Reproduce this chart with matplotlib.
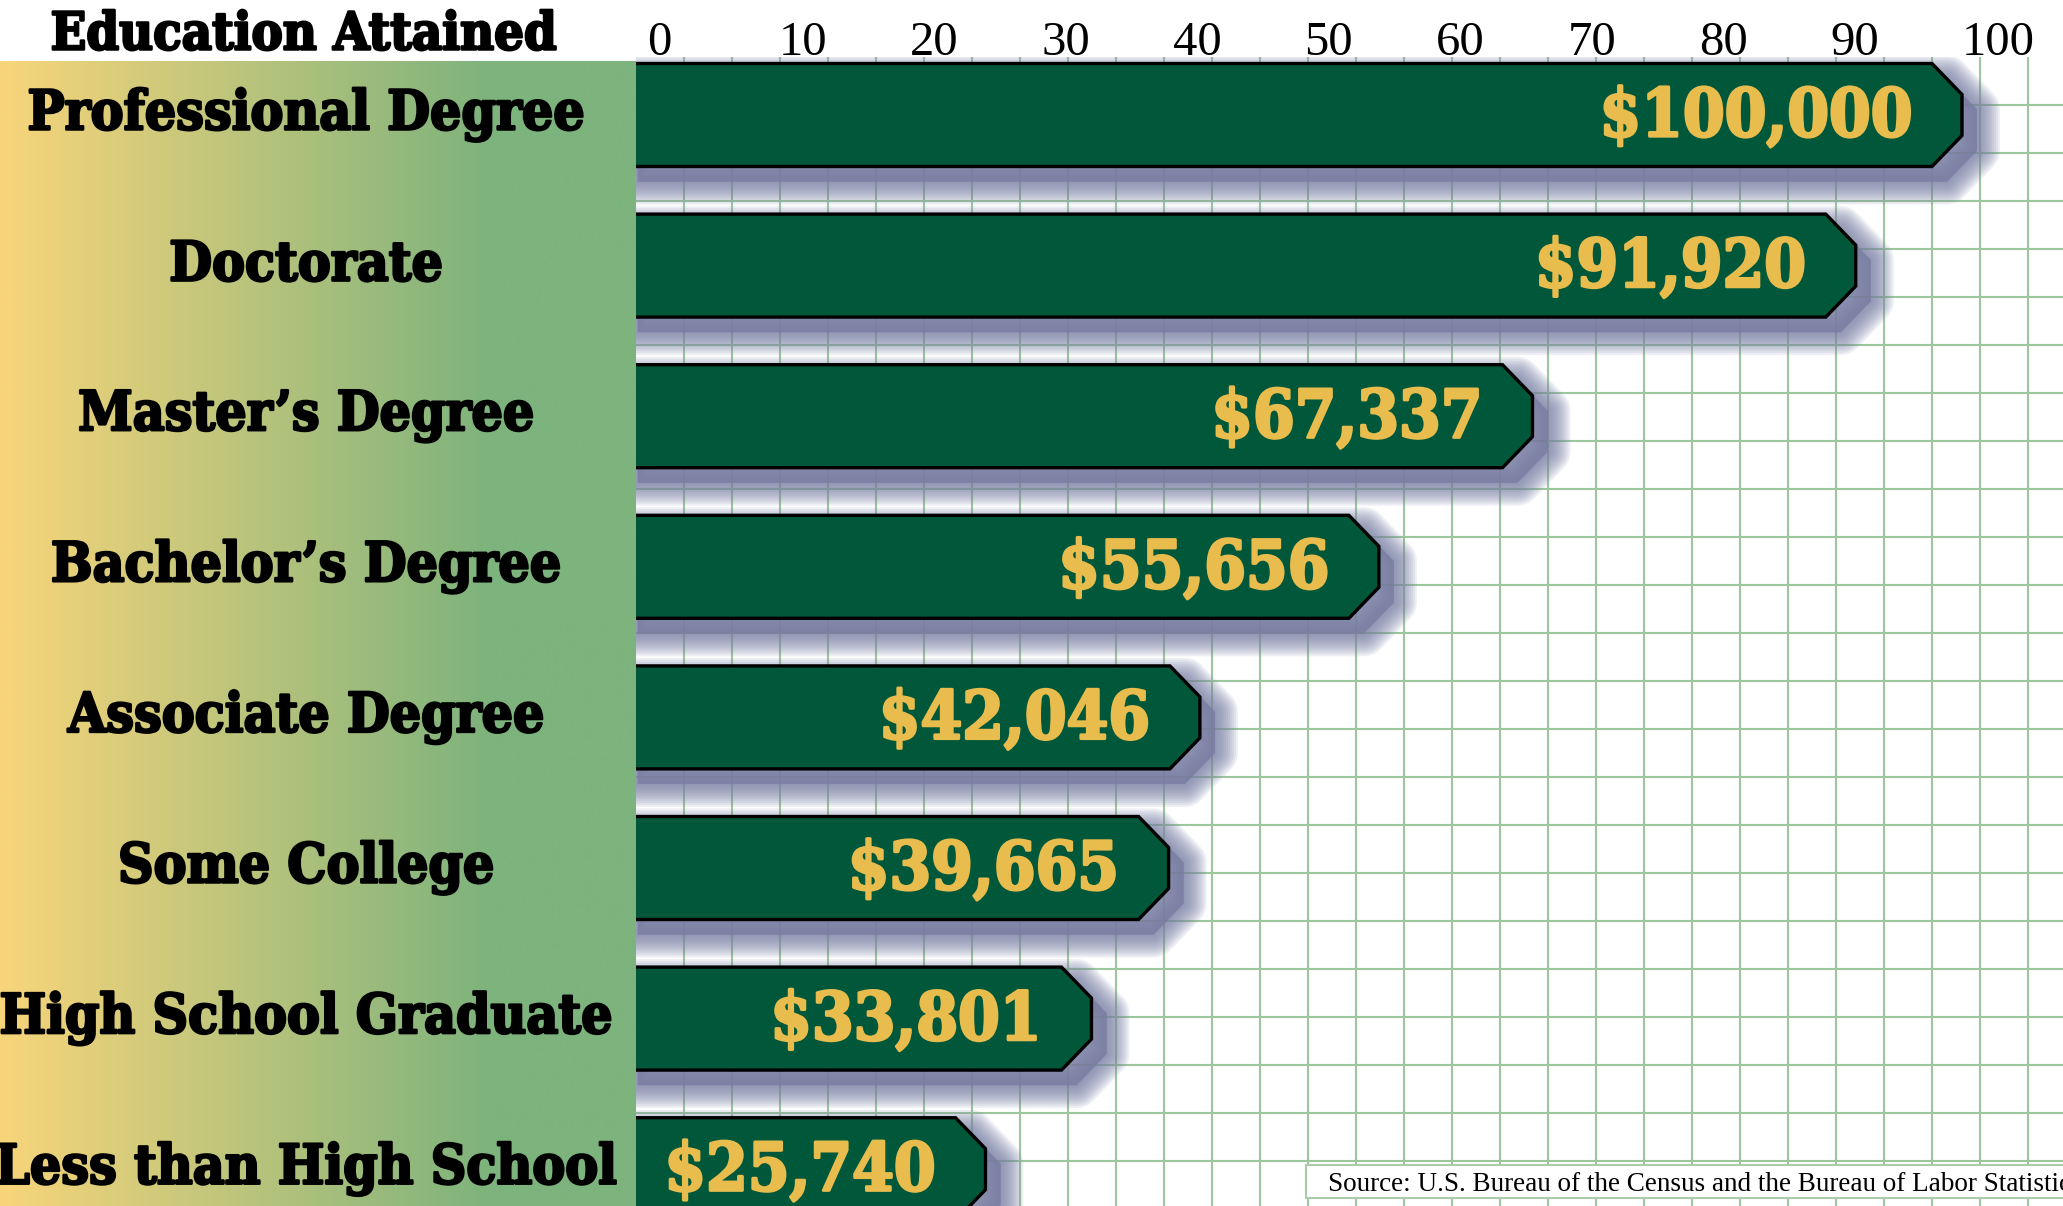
import numpy as np
import matplotlib
matplotlib.use("Agg")
import matplotlib.pyplot as plt
from matplotlib.patches import Polygon, Rectangle
from matplotlib.transforms import blended_transform_factory, ScaledTranslation
from matplotlib.colors import to_rgb
import matplotlib.patheffects as pe

# ---------------- data ----------------
categories = ["Professional Degree", "Doctorate", "Master\u2019s Degree", "Bachelor\u2019s Degree",
              "Associate Degree", "Some College", "High School Graduate", "Less than High School"]
earnings = [100000, 91920, 67337, 55656, 42046, 39665, 33801, 25740]
value_labels = ["$100,000", "$91,920", "$67,337", "$55,656", "$42,046", "$39,665", "$33,801", "$25,740"]
tick_values = [0, 10, 20, 30, 40, 50, 60, 70, 80, 90, 100]
tick_labels = [str(t) for t in tick_values]
header = "Education Attained"
source = "Source: U.S. Bureau of the Census and the Bureau of Labor Statistics"

# ---------------- style ----------------
W, H = 2063, 1206
DPI = 100
PANEL_W = 636          # px width of left gradient panel
PLOT_TOP = 57          # px from top where grid area starts
PANEL_TOP = 61
GRID_STEP = 48
BAR_COLOR = "#01573A"
GOLD = "#E8BD4E"
GRID_COLOR = "#9CC79C"
SHADOW = "#7A7FA5"
LEFT_COL = "#F8D57A"
RIGHT_COL = "#7DB37D"

SLAB = dict(family=["DejaVu Serif", "DejaVu Sans"], weight="bold", stretch="condensed")

def heavy(color, w=1.6):
    return [pe.withStroke(linewidth=w, foreground=color)]

fig = plt.figure(figsize=(W / DPI, H / DPI), dpi=DPI)
fig.patch.set_facecolor("white")

rect = [PANEL_W / W, 0, 1 - PANEL_W / W, (H - PLOT_TOP) / H]
ax_w_px = W - PANEL_W
ax_h_px = H - PLOT_TOP

# background grid axes (pixel units)
bg = fig.add_axes(rect)
bg.set_xlim(0, ax_w_px)
bg.set_ylim(ax_h_px, 0)
bg.axis("off")
for gx in np.arange(GRID_STEP, ax_w_px + 1, GRID_STEP):
    bg.axvline(gx, color=GRID_COLOR, lw=1.5, zorder=0)
for gy in np.arange(GRID_STEP, ax_h_px + 1, GRID_STEP):
    bg.axhline(gy, color=GRID_COLOR, lw=1.5, zorder=0)

# main data axes
ax = fig.add_axes(rect)
ax.patch.set_visible(False)
px_per_unit = 13.15
zero_px = 11  # zero lies 11 px right of panel edge
xlim = (-zero_px / px_per_unit, (ax_w_px - zero_px) / px_per_unit)
ax.set_xlim(*xlim)
row_px = 150.6
first_center = 115 - PLOT_TOP
ylim_top = -first_center / row_px
ylim_bot = ylim_top + ax_h_px / row_px
ax.set_ylim(ylim_bot, ylim_top)
for s in ax.spines.values():
    s.set_visible(False)
ax.set_yticks([])
ax.xaxis.tick_top()
ax.set_xticks(tick_values)
ax.set_xticklabels(tick_labels, family="Liberation Serif", fontsize=35, ha="left")
ax.tick_params(axis="x", length=0, pad=-5.5)

bar_h = 103 / row_px
ch_x = 30 / px_per_unit
ch_y = 31 / row_px

vals = np.array(earnings) / 1000.0
shadow_widths = np.linspace(46, 2, 12)
for i, v in enumerate(vals):
    y0, y1 = i - bar_h / 2, i + bar_h / 2
    xs = xlim[0] - 1
    verts = [(xs, y0), (v - ch_x, y0), (v, y0 + ch_y), (v, y1 - ch_y), (v - ch_x, y1), (xs, y1)]
    # soft drop shadow
    off = ScaledTranslation(15 / DPI, -15 / DPI, fig.dpi_scale_trans)
    for lw in shadow_widths:
        sp = Polygon(verts, closed=True, facecolor=SHADOW, edgecolor=SHADOW,
                     lw=lw * 0.72, alpha=0.12, joinstyle="round",
                     transform=ax.transData + off, zorder=1)
        ax.add_patch(sp)
    bar = Polygon(verts, closed=True, facecolor=BAR_COLOR, edgecolor="black",
                  lw=2.4, joinstyle="miter", zorder=2)
    ax.add_patch(bar)
    ax.annotate(value_labels[i], xy=(v, i), xytext=(-36, -2), textcoords="offset points",
                ha="right", va="center", color=GOLD, fontsize=48, zorder=3,
                path_effects=heavy(GOLD, 2.0), **SLAB)

# left gradient panel
pan = fig.add_axes([0, 0, PANEL_W / W, (H - PANEL_TOP) / H])
pan.axis("off")
n = 400
t = np.clip(np.linspace(0, 1, n) / (491 / PANEL_W), 0, 1)
c0, c1 = np.array(to_rgb(LEFT_COL)), np.array(to_rgb(RIGHT_COL))
grad = (c0[None, :] * (1 - t[:, None]) + c1[None, :] * t[:, None])[None, :, :]
pan.imshow(grad, aspect="auto", extent=(0, 1, 0, 1))
pan.set_xlim(0, 1)
pan.set_ylim(0, 1)

# category labels (x in figure coords, y in data coords)
trans = blended_transform_factory(fig.transFigure, ax.transData)
for i, c in enumerate(categories):
    fig.text(306 / W, i, c, transform=trans, ha="center", va="center",
             fontsize=39.5, color="black", zorder=5, path_effects=heavy("black", 1.8), **SLAB)

fig.text(304 / W, 1 - 35 / H, header, ha="center", va="center", fontsize=37.5,
         color="black", zorder=5, path_effects=heavy("black", 1.8), **SLAB)

# source box
fig.patches.append(Rectangle((1306 / W, 1 - 1198 / H), (W - 1306 + 10) / W, 33 / H,
                             transform=fig.transFigure, facecolor="white",
                             edgecolor="#A9CBA9", lw=1.5, zorder=4))
fig.text(1328 / W, 1 - 1191 / H, source, ha="left", va="baseline", fontsize=19.5,
         family="Liberation Serif", color="black", zorder=5)

fig.savefig("out.png", dpi=DPI)
